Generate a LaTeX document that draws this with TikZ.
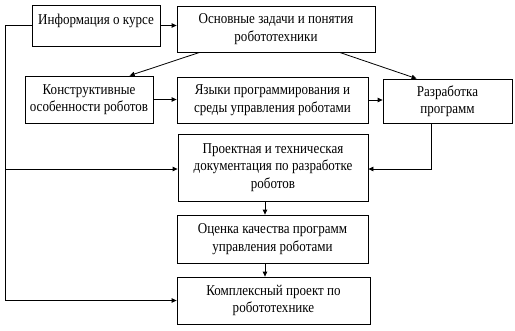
\documentclass[tikz,border=0pt]{standalone}
\usepackage{fontspec}
\setmainfont{Liberation Serif}[FakeStretch=0.87]
\usetikzlibrary{arrows.meta,calc}
\begin{document}
\begin{tikzpicture}[x=1pt,y=-1pt,
  box/.style={draw,line width=0.8pt,inner sep=0pt,align=center,
    font=\fontsize{15}{17.5}\selectfont},
  arr/.style={line width=0.8pt,-{Triangle[length=5pt,width=4.5pt]}},
  ln/.style={line width=0.8pt}]
\useasboundingbox (0,0) rectangle (515,330);
\node[box,minimum width=128pt,minimum height=41pt,text depth=13pt] (b1) at (96,25.5) {Информация о курсе};
\node[box,minimum width=198pt,minimum height=46pt] (b2) at (276,29) {Основные задачи и понятия\\робототехники};
\node[box,minimum width=128pt,minimum height=47pt] (b3) at (89,99.5) {Конструктивные\\особенности роботов};
\node[box,minimum width=191pt,minimum height=46pt] (b4) at (272.5,100) {Языки программирования и\\среды управления роботами};
\node[box,minimum width=129pt,minimum height=44pt] (b5) at (447.5,101) {Разработка\\программ};
\node[box,minimum width=190pt,minimum height=67pt] (b6) at (273,167.5) {Проектная и техническая\\документация по разработке\\роботов};
\node[box,minimum width=191pt,minimum height=48pt] (b7) at (272.5,239) {Оценка качества программ\\управления роботами};
\node[box,minimum width=193pt,minimum height=47pt] (b8) at (273.5,300.5) {Комплексный проект по\\робототехнике};
\coordinate (l1) at (5,25.5);
\coordinate (l2) at (5,169);
\coordinate (l3) at (5,300.5);
\coordinate (r1) at (431,169);
\draw[arr] (b1.east) -- (b2.west |- b1.east);
\draw[arr] ($(b2.south west)+(23,0)$) -- ($(b3.north west)+(105,0)$);
\draw[arr] ($(b2.south west)+(163,0)$) -- ($(b5.north west)+(34,0)$);
\draw[arr] (b3.east) -- (b4.west |- b3.east);
\draw[arr] (b4.east) -- (b5.west |- b4.east);
\draw[arr] (b5.south -| r1) -- (r1) -- (b6.east |- r1);
\draw[arr] (b6.south -| 265,0) -- (b7.north -| 265,0);
\draw[arr] (b7.south -| 265,0) -- (b8.north -| 265,0);
\draw[ln] (b1.west) -- (l1) -- (l3);
\draw[arr] (l2) -- (b6.west |- l2);
\draw[arr] (l3) -- (b8.west |- l3);
\end{tikzpicture}
\end{document}
